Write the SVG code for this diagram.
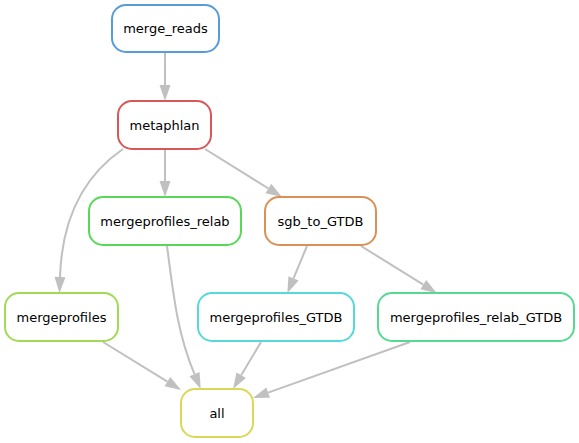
<svg xmlns="http://www.w3.org/2000/svg" width="579" height="443" viewBox="0 0 579 443">
<style>
.node rect{fill:#ffffff;stroke-width:2}
.node text{font-family:"DejaVu Sans","Liberation Sans",sans-serif;font-size:13px;fill:#000;text-anchor:middle;dominant-baseline:central}
.edges path{fill:none;stroke:#c0c0c0;stroke-width:2;marker-end:url(#arr)}
</style>
<defs>
<marker id="arr" markerUnits="userSpaceOnUse" markerWidth="16" markerHeight="11" refX="0" refY="5.5" orient="auto" overflow="visible">
<path d="M0,0 L16,5.5 L0,11 z" fill="#c0c0c0"/>
</marker>
</defs>
<rect width="579" height="443" fill="#ffffff"/>
<g class="edges" id="connectors">
<path d="M165,52 L165,85"/>
<path d="M165,149 L165,181"/>
<path d="M205,149 L268.4,188.5"/>
<path d="M123,149 C85,175 62,215 60,277"/>
<path d="M307,246 L293.5,278.4"/>
<path d="M361,246 L423.3,284.7"/>
<path d="M167,246 C174,300 178,335 194.5,374.2"/>
<path d="M103,342 L167.4,381.6"/>
<path d="M261,342 L241.2,375.3"/>
<path d="M410,342 L268.1,392.6"/>
</g>
<g class="node" id="merge_reads"><rect x="112" y="5" width="107" height="47" rx="14" stroke="#579cd9"/><text x="165.5" y="28.5">merge_reads</text></g>
<g class="node" id="metaphlan"><rect x="118" y="101" width="93" height="48" rx="14" stroke="#d95757"/><text x="164.5" y="125">metaphlan</text></g>
<g class="node" id="mergeprofiles_relab"><rect x="89" y="197" width="152" height="48" rx="14" stroke="#57d957"/><text x="165" y="221">mergeprofiles_relab</text></g>
<g class="node" id="sgb_to_GTDB"><rect x="265" y="197" width="111" height="48" rx="14" stroke="#d99157"/><text x="320.5" y="221">sgb_to_GTDB</text></g>
<g class="node" id="mergeprofiles"><rect x="5" y="293" width="113" height="48" rx="14" stroke="#a2d957"/><text x="61.5" y="317">mergeprofiles</text></g>
<g class="node" id="mergeprofiles_GTDB"><rect x="198" y="293" width="156" height="48" rx="14" stroke="#57d9d9"/><text x="276" y="317">mergeprofiles_GTDB</text></g>
<g class="node" id="mergeprofiles_relab_GTDB"><rect x="378" y="293" width="196" height="48" rx="14" stroke="#57d991"/><text x="476" y="317">mergeprofiles_relab_GTDB</text></g>
<g class="node" id="all"><rect x="181" y="389" width="72" height="48" rx="14" stroke="#d9d957"/><text x="217" y="413">all</text></g>
</svg>
